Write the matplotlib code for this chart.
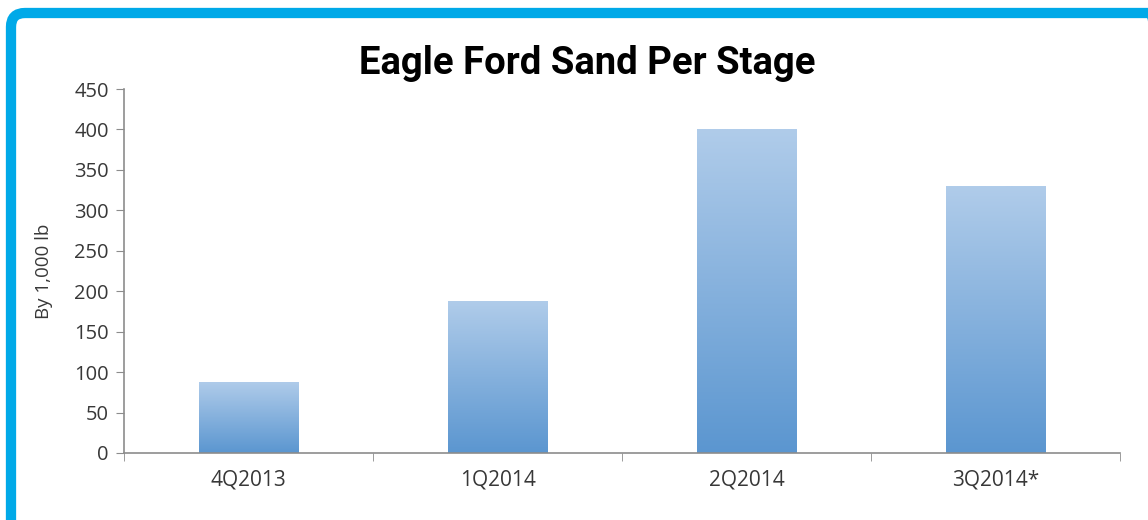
import matplotlib.pyplot as plt
import numpy as np
from matplotlib.colors import LinearSegmentedColormap
from matplotlib.patches import FancyBboxPatch

quarters = ['4Q2013', '1Q2014', '2Q2014', '3Q2014*']
sand_per_stage = [88, 188, 400, 330]
y_ticks = [0, 50, 100, 150, 200, 250, 300, 350, 400, 450]

plt.rcParams['font.family'] = ['Open Sans', 'DejaVu Sans']

W, H = 1148, 520
fig = plt.figure(figsize=(W / 100, H / 100), dpi=100)

# background axes in pixel units for the rounded blue frame
bg = fig.add_axes([0, 0, 1, 1], zorder=0)
bg.set_xlim(0, W)
bg.set_ylim(0, H)
bg.axis('off')
frame = FancyBboxPatch((11, -30), 1153, H - 13 + 30,
                       boxstyle='round,pad=0,rounding_size=14',
                       facecolor='none', edgecolor='#00A9E8', linewidth=7.4)
bg.add_patch(frame)

ax = fig.add_axes([124 / W, 67 / H, 996 / W, 364 / H], zorder=1)
ax.patch.set_alpha(0)

x = np.arange(len(quarters))
bars = ax.bar(x, sand_per_stage, width=0.4, color='none', edgecolor='none')

grad = LinearSegmentedColormap.from_list('bar', ['#5B96D0', '#B0CCEA'])
g = np.linspace(0, 1, 256).reshape(-1, 1)
for b in bars:
    x0, w, h = b.get_x(), b.get_width(), b.get_height()
    im = ax.imshow(g, cmap=grad, origin='lower', aspect='auto',
                   extent=[x0, x0 + w, 0, h], zorder=2)
    im.set_clip_path(b)

ax.set_xlim(-0.5, len(quarters) - 0.5)
ax.set_ylim(0, 450)
ax.set_yticks(y_ticks)
ax.set_xticks(x)
ax.set_xticklabels(quarters)
ax.set_xticks(np.arange(-0.5, len(quarters)), minor=True)

for s in ['top', 'right']:
    ax.spines[s].set_visible(False)
for s in ['left', 'bottom']:
    ax.spines[s].set_color('#8C8C8C')
    ax.spines[s].set_linewidth(1.2)

ax.tick_params(axis='y', length=6, color='#8C8C8C', labelsize=14.5,
               labelcolor='#383838', pad=5)
ax.tick_params(axis='x', which='major', length=0, labelsize=15,
               labelcolor='#383838', pad=12)
ax.tick_params(axis='x', which='minor', length=6, color='#8C8C8C')

ax.set_ylabel('By 1,000 lb', fontsize=13.5, color='#383838', labelpad=15)

fig.text(587 / W, 456 / H, 'Eagle Ford Sand Per Stage',
         ha='center', va='center', fontsize=27.5, fontweight='bold',
         family=['Roboto', 'DejaVu Sans'], color='black')

fig.savefig('out.png', dpi=100)
